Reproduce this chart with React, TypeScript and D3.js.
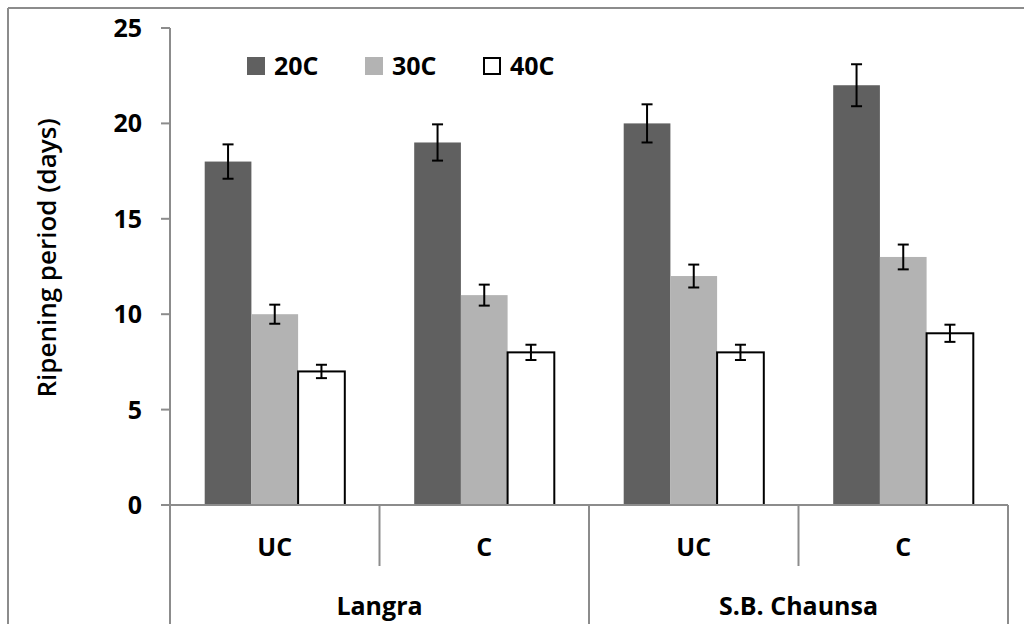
import React from "react";
import * as d3 from "d3";

// data
const varieties = ["Langra", "S.B. Chaunsa"];
const treatments = ["UC", "C"];
const series = ["20C", "30C", "40C"];
const values20 = [18, 19, 20, 22];
const values30 = [10, 11, 12, 13];
const values40 = [7, 8, 8, 9];
const errors20 = [0.9, 0.95, 1.0, 1.1];
const errors30 = [0.5, 0.55, 0.6, 0.65];
const errors40 = [0.35, 0.4, 0.4, 0.45];
const yTicks = [0, 5, 10, 15, 20, 25];

const colors = ["#606060", "#b3b3b3", "#ffffff"];
const font = "'Open Sans', sans-serif";
const axisColor = "#8c8c8c";

const App = () => {
  const categories = varieties.flatMap((v) => treatments.map((t) => `${v}|${t}`));
  const seriesValues = [values20, values30, values40];
  const seriesErrors = [errors20, errors30, errors40];

  const left = 170;
  const right = 1008;
  const axisY = 505;

  const y = d3.scaleLinear().domain([0, 25]).range([axisY, 28]);
  const x = d3.scaleBand().domain(categories).range([left, right]);
  const xs = d3
    .scaleBand()
    .domain(series)
    .range([0, x.bandwidth()])
    .paddingOuter(0.743);
  const xg = d3.scaleBand().domain(varieties).range([left, right]);
  const legendX = d3.scalePoint().domain(series).range([247, 483]);

  const bars = categories.flatMap((c, i) =>
    series.map((s, j) => ({
      c,
      s,
      j,
      v: seriesValues[j][i],
      e: seriesErrors[j][i],
    }))
  );

  const cap = 5.5;
  const txt = { fontFamily: font, fontWeight: 700, fontSize: 25, fill: "#000" };

  return (
    <svg
      width={1024}
      height={624}
      style={{ display: "block", position: "absolute", left: 0, top: 0 }}
    >
      <rect x={0} y={0} width={1024} height={624} fill="#fff" />
      <line x1={8} x2={1024} y1={8} y2={8} stroke={axisColor} strokeWidth={2} />
      <line x1={8} x2={8} y1={8} y2={624} stroke={axisColor} strokeWidth={2} />

      {/* bars */}
      {bars.map((b, k) => {
        const bx = (x(b.c) as number) + (xs(b.s) as number);
        return (
          <rect
            key={k}
            x={bx}
            y={y(b.v)}
            width={xs.bandwidth()}
            height={axisY - y(b.v)}
            fill={colors[b.j]}
            stroke={b.j === 2 ? "#000" : "none"}
            strokeWidth={2}
          />
        );
      })}

      {/* error bars */}
      {bars.map((b, k) => {
        const cx = (x(b.c) as number) + (xs(b.s) as number) + xs.bandwidth() / 2;
        return (
          <g key={k} stroke="#000" strokeWidth={2}>
            <line x1={cx} x2={cx} y1={y(b.v + b.e)} y2={y(b.v - b.e)} />
            <line x1={cx - cap} x2={cx + cap} y1={y(b.v + b.e)} y2={y(b.v + b.e)} />
            <line x1={cx - cap} x2={cx + cap} y1={y(b.v - b.e)} y2={y(b.v - b.e)} />
          </g>
        );
      })}

      {/* axes */}
      <g stroke={axisColor} strokeWidth={2}>
        <line x1={left} x2={left} y1={y(25)} y2={624} />
        {yTicks.map((t) => (
          <line key={t} x1={left - 9} x2={left} y1={y(t)} y2={y(t)} />
        ))}
        <line x1={left - 9} x2={right} y1={axisY} y2={axisY} />
        {categories.map((c, i) => {
          const xr = (x(c) as number) + x.bandwidth();
          const groupEnd = i % 2 === 1;
          return <line key={c} x1={xr} x2={xr} y1={axisY} y2={groupEnd ? 624 : 566} />;
        })}
      </g>
      {yTicks.map((t) => (
        <text key={t} x={142} y={y(t)} dy="0.36em" textAnchor="end" {...txt}>
          {t}
        </text>
      ))}
      <text
        transform={`translate(56,${258}) rotate(-90)`}
        textAnchor="middle"
        {...txt}
        fontWeight={600}
        fontSize={26}
      >
        Ripening period (days)
      </text>

      {/* category labels */}
      {categories.map((c) => (
        <text
          key={c}
          x={(x(c) as number) + x.bandwidth() / 2}
          y={556}
          textAnchor="middle"
          {...txt}
        >
          {c.split("|")[1]}
        </text>
      ))}
      {varieties.map((v) => (
        <text
          key={v}
          x={(xg(v) as number) + xg.bandwidth() / 2}
          y={615}
          textAnchor="middle"
          {...txt}
        >
          {v}
        </text>
      ))}

      {/* legend */}
      {series.map((s, j) => (
        <g key={s} transform={`translate(${legendX(s)},57)`}>
          <rect
            x={j === 2 ? 1 : 0}
            y={j === 2 ? 1 : 0}
            width={j === 2 ? 16 : 18}
            height={j === 2 ? 16 : 18}
            fill={colors[j]}
            stroke={j === 2 ? "#000" : "none"}
            strokeWidth={2}
          />
          <text x={27} y={17.5} {...txt}>
            {s}
          </text>
        </g>
      ))}
    </svg>
  );
};

export default App;
